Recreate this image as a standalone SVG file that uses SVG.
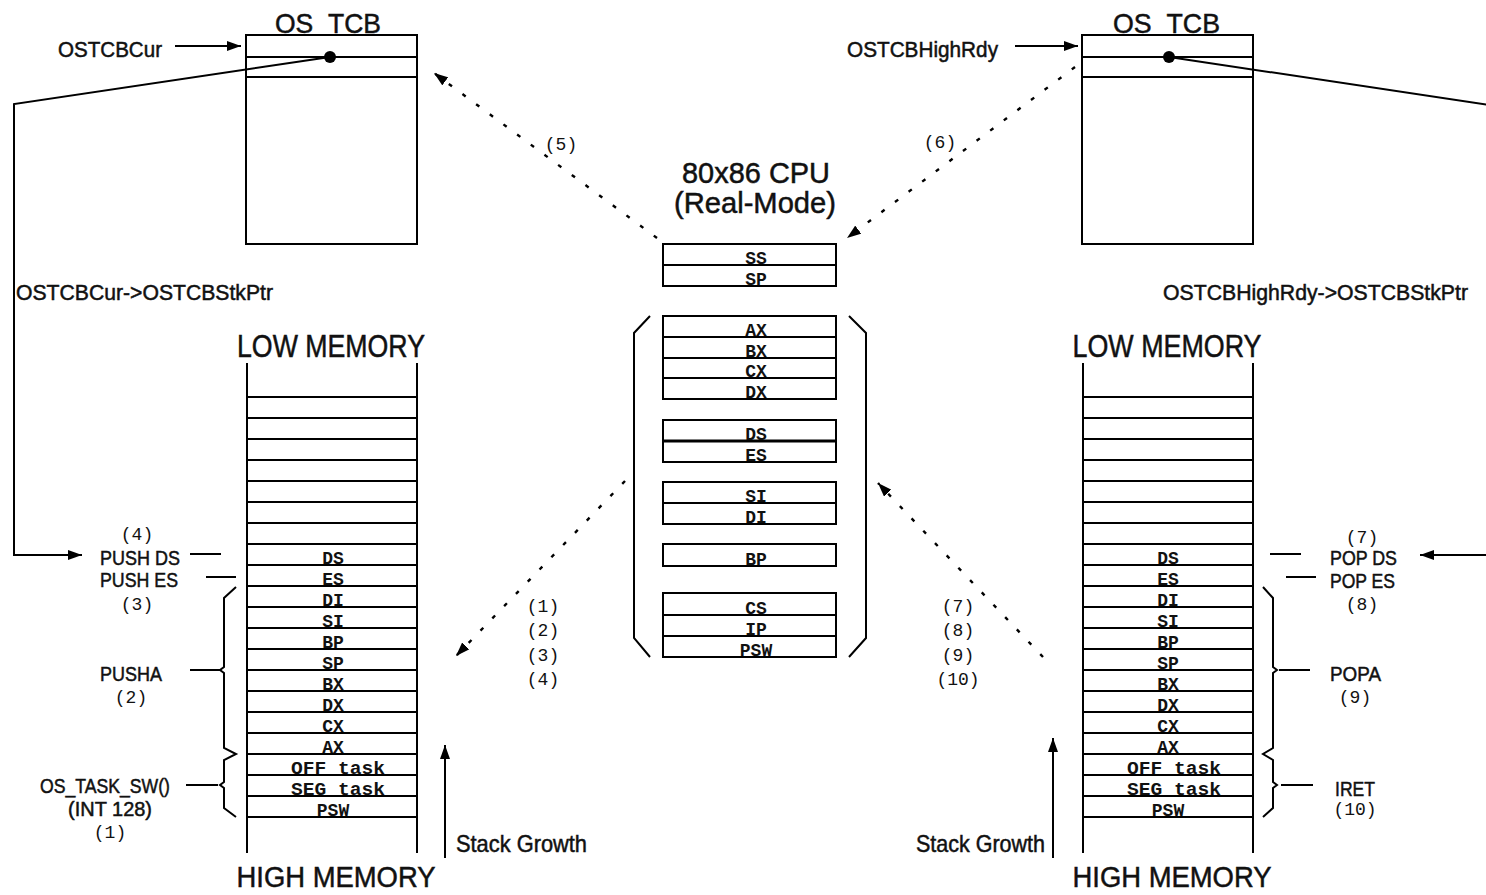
<svg xmlns="http://www.w3.org/2000/svg" width="1486" height="895" viewBox="0 0 1486 895">
<style>
.ln{stroke:#000;stroke-width:2;fill:none}
.box{stroke:#000;stroke-width:2;fill:#fff}
.dot{stroke:#000;stroke-width:2.4;fill:none;stroke-dasharray:4 13}
.sans{font-family:"Liberation Sans",Arial,sans-serif;fill:#111;stroke:#111;stroke-width:0.5}
.mono{font-family:"Liberation Mono","Courier New",monospace;fill:#111;font-size:18px;text-anchor:middle}
.reg{font-family:"Liberation Mono","Courier New",monospace;fill:#111;font-size:18px;text-anchor:middle;font-weight:bold}
</style>
<defs>
<marker id="ah" viewBox="0 0 14 10" refX="14" refY="5" markerWidth="14" markerHeight="10" markerUnits="userSpaceOnUse" orient="auto"><path d="M0,0 L14,5 L0,10 z" fill="#000"/></marker>
</defs>
<rect width="1486" height="895" fill="#fff"/>

<g id="left-tcb">
<text class="sans" x="275" y="33" font-size="28" textLength="106" lengthAdjust="spacingAndGlyphs">OS_TCB</text>
<rect class="box" x="246" y="35" width="171" height="209"/>
<line class="ln" x1="246" y1="57" x2="417" y2="57"/>
<line class="ln" x1="246" y1="77" x2="417" y2="77"/>
<circle cx="330" cy="57" r="6" fill="#000"/>
</g>

<g id="right-tcb">
<text class="sans" x="1113" y="33" font-size="28" textLength="107" lengthAdjust="spacingAndGlyphs">OS_TCB</text>
<rect class="box" x="1082" y="35" width="171" height="209"/>
<line class="ln" x1="1082" y1="57" x2="1253" y2="57"/>
<line class="ln" x1="1082" y1="77" x2="1253" y2="77"/>
<circle cx="1169" cy="57" r="6" fill="#000"/>
</g>

<g id="pointer-labels">
<text class="sans" x="58" y="57" font-size="22" textLength="104" lengthAdjust="spacingAndGlyphs">OSTCBCur</text>
<text class="sans" x="847" y="57" font-size="22" textLength="151" lengthAdjust="spacingAndGlyphs">OSTCBHighRdy</text>
<text class="sans" x="16" y="300" font-size="22" textLength="257" lengthAdjust="spacingAndGlyphs">OSTCBCur-&gt;OSTCBStkPtr</text>
<text class="sans" x="1163" y="300" font-size="22" textLength="305" lengthAdjust="spacingAndGlyphs">OSTCBHighRdy-&gt;OSTCBStkPtr</text>
</g>

<g id="cpu">
<text class="sans" x="756" y="183" font-size="30" text-anchor="middle" textLength="148" lengthAdjust="spacingAndGlyphs">80x86 CPU</text>
<text class="sans" x="755" y="213" font-size="30" text-anchor="middle" textLength="162" lengthAdjust="spacingAndGlyphs">(Real-Mode)</text>
<rect class="ln" x="663" y="244" width="173" height="42"/>
<line class="ln" x1="663" y1="265" x2="836" y2="265"/>
<text class="reg" x="756" y="264">SS</text>
<text class="reg" x="756" y="285">SP</text>
<rect class="ln" x="663" y="316" width="173" height="83"/>
<line class="ln" x1="663" y1="337" x2="836" y2="337"/>
<line class="ln" x1="663" y1="358" x2="836" y2="358"/>
<line class="ln" x1="663" y1="378" x2="836" y2="378"/>
<text class="reg" x="756" y="336">AX</text>
<text class="reg" x="756" y="357">BX</text>
<text class="reg" x="756" y="377">CX</text>
<text class="reg" x="756" y="398">DX</text>
<rect class="ln" x="663" y="420" width="173" height="42"/>
<line x1="663" y1="441" x2="836" y2="441" stroke="#000" stroke-width="3"/>
<text class="reg" x="756" y="440">DS</text>
<text class="reg" x="756" y="461">ES</text>
<rect class="ln" x="663" y="482" width="173" height="42"/>
<line class="ln" x1="663" y1="503" x2="836" y2="503"/>
<text class="reg" x="756" y="502">SI</text>
<text class="reg" x="756" y="523">DI</text>
<rect class="ln" x="663" y="544" width="173" height="22"/>
<text class="reg" x="756" y="565">BP</text>
<rect class="ln" x="663" y="593" width="173" height="64"/>
<line class="ln" x1="663" y1="615" x2="836" y2="615"/>
<line class="ln" x1="663" y1="636" x2="836" y2="636"/>
<text class="reg" x="756" y="614">CS</text>
<text class="reg" x="756" y="635">IP</text>
<text class="reg" x="756" y="656">PSW</text>
<path class="ln" d="M650,316 L634,333 L634,638 L650,657"/>
<path class="ln" d="M849,316 L866,333 L866,638 L849,657"/>
</g>

<g id="left-stack">
<text class="sans" x="331" y="357" font-size="32" text-anchor="middle" textLength="188" lengthAdjust="spacingAndGlyphs">LOW MEMORY</text>
<text class="sans" x="336" y="887" font-size="30" text-anchor="middle" textLength="199" lengthAdjust="spacingAndGlyphs">HIGH MEMORY</text>
<line class="ln" x1="247" y1="363" x2="247" y2="853"/>
<line class="ln" x1="417" y1="363" x2="417" y2="853"/>
<path class="ln" d="M247,397H417M247,418H417M247,439H417M247,460H417M247,481H417M247,502H417M247,523H417M247,544H417M247,565H417M247,586H417M247,607H417M247,628H417M247,649H417M247,670H417M247,691H417M247,712H417M247,733H417M247,754H417M247,775H417M247,796H417M247,817H417"/>
<text class="reg" x="333" y="564">DS</text>
<text class="reg" x="333" y="585">ES</text>
<text class="reg" x="333" y="606">DI</text>
<text class="reg" x="333" y="627">SI</text>
<text class="reg" x="333" y="648">BP</text>
<text class="reg" x="333" y="669">SP</text>
<text class="reg" x="333" y="690">BX</text>
<text class="reg" x="333" y="711">DX</text>
<text class="reg" x="333" y="732">CX</text>
<text class="reg" x="333" y="753">AX</text>
<text class="reg" x="338" y="774" textLength="94" lengthAdjust="spacingAndGlyphs">OFF task</text>
<text class="reg" x="338" y="795" textLength="94" lengthAdjust="spacingAndGlyphs">SEG task</text>
<text class="reg" x="333" y="816">PSW</text>
<text class="sans" x="456" y="852" font-size="24" textLength="131" lengthAdjust="spacingAndGlyphs">Stack Growth</text>
</g>

<g id="left-ops">
<text class="mono" x="137" y="540">(4)</text>
<text class="sans" x="100" y="565" font-size="21" textLength="80" lengthAdjust="spacingAndGlyphs">PUSH DS</text>
<text class="sans" x="100" y="587" font-size="21" textLength="78" lengthAdjust="spacingAndGlyphs">PUSH ES</text>
<text class="mono" x="137" y="610">(3)</text>
<text class="sans" x="100" y="681" font-size="21" textLength="62" lengthAdjust="spacingAndGlyphs">PUSHA</text>
<text class="mono" x="131" y="703">(2)</text>
<text class="sans" x="40" y="793" font-size="21" textLength="130" lengthAdjust="spacingAndGlyphs">OS_TASK_SW()</text>
<text class="sans" x="68" y="816" font-size="21" textLength="84" lengthAdjust="spacingAndGlyphs">(INT 128)</text>
<text class="mono" x="110" y="838">(1)</text>
<line class="ln" x1="190" y1="554" x2="221" y2="554"/>
<line class="ln" x1="206" y1="577" x2="236" y2="577"/>
<line class="ln" x1="190" y1="670" x2="220" y2="670"/>
<line class="ln" x1="186" y1="785" x2="218" y2="785"/>
<path class="ln" d="M236,587 L224,598 L224,667 L220,670 L224,673 L224,748 L236,754 L224,760 L224,782 L220,785 L224,788 L224,808 L236,817"/>
</g>

<g id="right-stack">
<text class="sans" x="1167" y="357" font-size="32" text-anchor="middle" textLength="189" lengthAdjust="spacingAndGlyphs">LOW MEMORY</text>
<text class="sans" x="1172" y="887" font-size="30" text-anchor="middle" textLength="199" lengthAdjust="spacingAndGlyphs">HIGH MEMORY</text>
<line class="ln" x1="1083" y1="363" x2="1083" y2="853"/>
<line class="ln" x1="1253" y1="363" x2="1253" y2="853"/>
<path class="ln" d="M1083,397H1253M1083,418H1253M1083,439H1253M1083,460H1253M1083,481H1253M1083,502H1253M1083,523H1253M1083,544H1253M1083,565H1253M1083,586H1253M1083,607H1253M1083,628H1253M1083,649H1253M1083,670H1253M1083,691H1253M1083,712H1253M1083,733H1253M1083,754H1253M1083,775H1253M1083,796H1253M1083,817H1253"/>
<text class="reg" x="1168" y="564">DS</text>
<text class="reg" x="1168" y="585">ES</text>
<text class="reg" x="1168" y="606">DI</text>
<text class="reg" x="1168" y="627">SI</text>
<text class="reg" x="1168" y="648">BP</text>
<text class="reg" x="1168" y="669">SP</text>
<text class="reg" x="1168" y="690">BX</text>
<text class="reg" x="1168" y="711">DX</text>
<text class="reg" x="1168" y="732">CX</text>
<text class="reg" x="1168" y="753">AX</text>
<text class="reg" x="1174" y="774" textLength="94" lengthAdjust="spacingAndGlyphs">OFF task</text>
<text class="reg" x="1174" y="795" textLength="94" lengthAdjust="spacingAndGlyphs">SEG task</text>
<text class="reg" x="1168" y="816">PSW</text>
<text class="sans" x="1045" y="852" font-size="24" text-anchor="end" textLength="129" lengthAdjust="spacingAndGlyphs">Stack Growth</text>
</g>

<g id="right-ops">
<text class="mono" x="1362" y="543">(7)</text>
<text class="sans" x="1330" y="565" font-size="21" textLength="67" lengthAdjust="spacingAndGlyphs">POP DS</text>
<text class="sans" x="1330" y="588" font-size="21" textLength="65" lengthAdjust="spacingAndGlyphs">POP ES</text>
<text class="mono" x="1362" y="610">(8)</text>
<text class="sans" x="1330" y="681" font-size="21" textLength="51" lengthAdjust="spacingAndGlyphs">POPA</text>
<text class="mono" x="1355" y="703">(9)</text>
<text class="sans" x="1335" y="796" font-size="21" textLength="40" lengthAdjust="spacingAndGlyphs">IRET</text>
<text class="mono" x="1355" y="815">(10)</text>
<line class="ln" x1="1270" y1="554" x2="1301" y2="554"/>
<line class="ln" x1="1286" y1="577" x2="1316" y2="577"/>
<line class="ln" x1="1279" y1="670" x2="1310" y2="670"/>
<line class="ln" x1="1281" y1="785" x2="1313" y2="785"/>
<path class="ln" d="M1263,587 L1273,598 L1273,667 L1277,670 L1273,673 L1273,748 L1263,754 L1273,760 L1273,782 L1277,785 L1273,788 L1273,808 L1263,817"/>
</g>

<g id="step-labels">
<text class="mono" x="561" y="150">(5)</text>
<text class="mono" x="940" y="148">(6)</text>
<text class="mono" x="543" y="612">(1)</text>
<text class="mono" x="543" y="636">(2)</text>
<text class="mono" x="543" y="661">(3)</text>
<text class="mono" x="543" y="685">(4)</text>
<text class="mono" x="958" y="612">(7)</text>
<text class="mono" x="958" y="636">(8)</text>
<text class="mono" x="958" y="661">(9)</text>
<text class="mono" x="958" y="685">(10)</text>
</g>

<g id="connectors">
<line class="ln" x1="175" y1="46" x2="241" y2="46" marker-end="url(#ah)"/>
<line class="ln" x1="1015" y1="46" x2="1078" y2="46" marker-end="url(#ah)"/>
<polyline class="ln" points="330,57 14,104 14,555 82,555" marker-end="url(#ah)"/>
<polyline class="ln" points="1169,57 1490,105"/>
<line class="ln" x1="1490" y1="555" x2="1420" y2="555" marker-end="url(#ah)"/>
<line class="ln" x1="445" y1="858" x2="445" y2="745" marker-end="url(#ah)"/>
<line class="ln" x1="1053" y1="858" x2="1053" y2="738" marker-end="url(#ah)"/>
<line class="dot" x1="657" y1="238" x2="434" y2="73" marker-end="url(#ah)"/>
<line class="dot" x1="1075" y1="67" x2="847" y2="238" marker-end="url(#ah)"/>
<line class="dot" x1="625" y1="481" x2="456" y2="656" marker-end="url(#ah)"/>
<line class="dot" x1="1043" y1="657" x2="878" y2="483" marker-end="url(#ah)"/>
</g>
</svg>
